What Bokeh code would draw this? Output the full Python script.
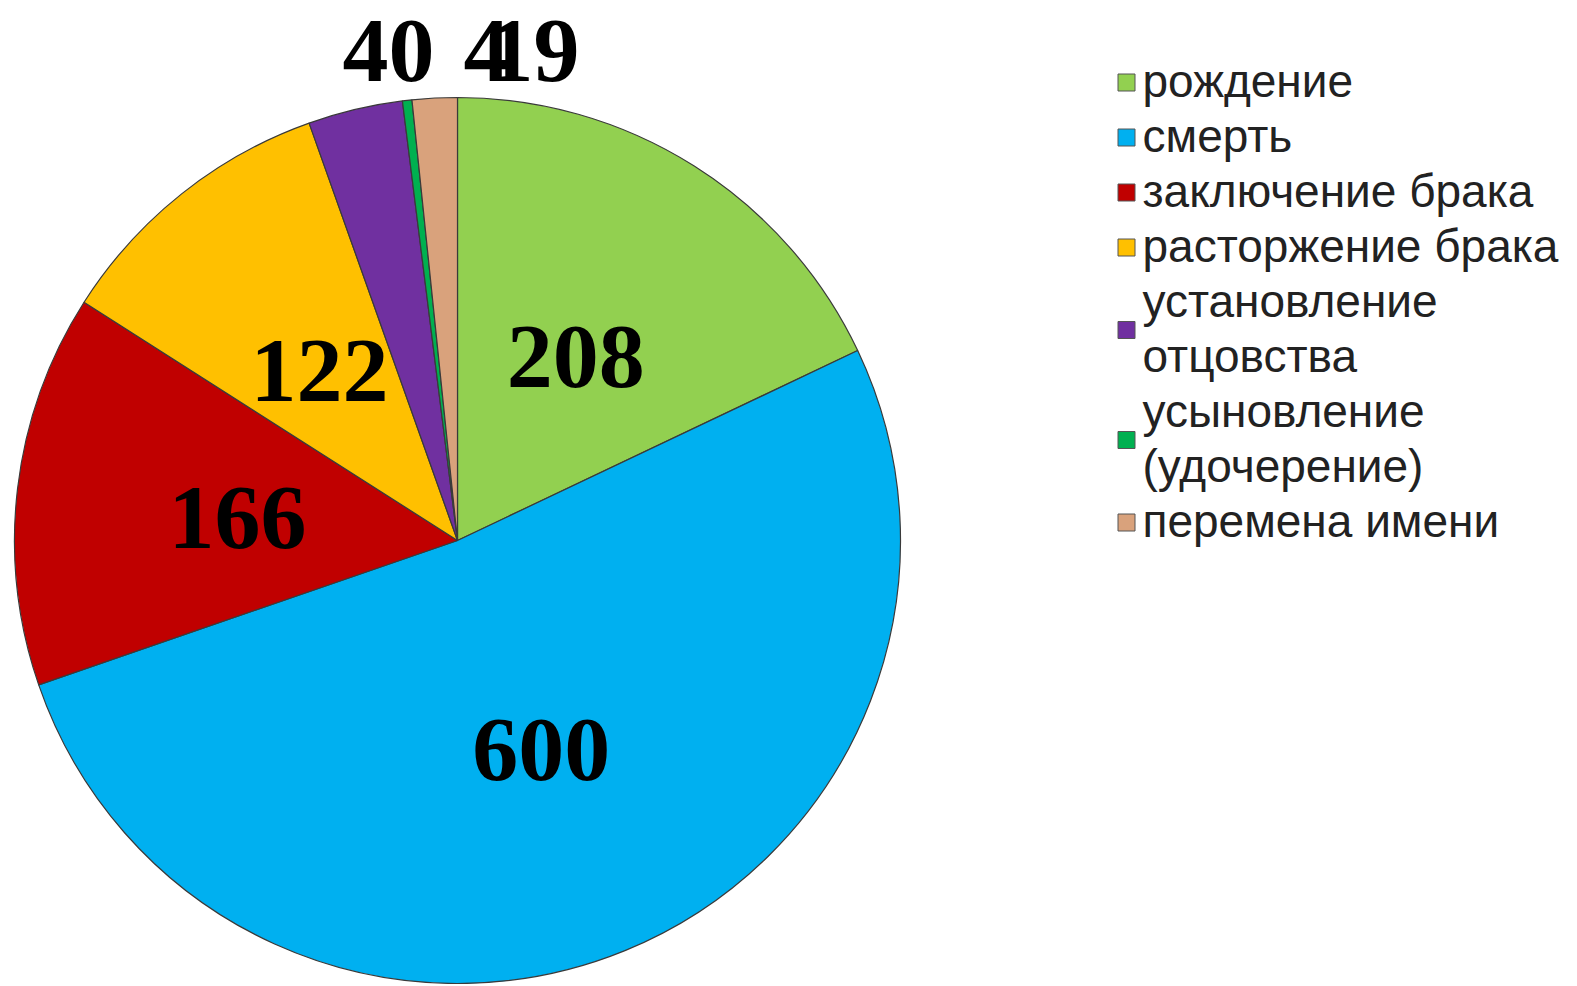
import numpy as np
from bokeh.plotting import figure
from bokeh.models import ColumnDataSource, Range1d
from bokeh.core.properties import value
from bokeh.embed import file_html
from bokeh.resources import INLINE

# ---- data ----
categories = ["рождение", "смерть", "заключение брака", "расторжение брака",
              "установление\nотцовства", "усыновление\n(удочерение)", "перемена имени"]
values = [208, 600, 166, 122, 40, 4, 19]
colors = ["#92D050", "#00B0F0", "#C00000", "#FFC000", "#7030A0", "#00B050", "#D9A27C"]

# ---- layout ----
W, H = 1576, 984
cx, cy, R = 457, 444, 443

p = figure(width=W, height=H, output_backend="svg", toolbar_location=None,
           x_range=Range1d(0, W), y_range=Range1d(0, H), min_border=0)
p.axis.visible = False
p.grid.visible = False
p.outline_line_color = None
p.background_fill_color = "white"

vals = np.array(values, dtype=float)
frac = vals / vals.sum()
cum = np.concatenate([[0], np.cumsum(frac)])
start = np.pi / 2 - 2 * np.pi * cum[:-1]
end = np.pi / 2 - 2 * np.pi * cum[1:]
mid = (start + end) / 2

src = ColumnDataSource(dict(start=start, end=end, color=colors))
p.wedge(x=cx, y=cy, radius=R, start_angle="start", end_angle="end",
        direction="clock", fill_color="color", line_color="#3a3a3a",
        line_width=1.2, source=src)

# data labels
inside = frac > 0.05
lx, ly = [], []
outside_dx = {4: -69, 5: 29, 6: 76}
for i in range(len(values)):
    if inside[i]:
        lx.append(cx + 0.5 * R * np.cos(mid[i]))
        ly.append(cy + 0.5 * R * np.sin(mid[i]) - 4)
    else:
        lx.append(cx + outside_dx[i])
        ly.append(cy + 1.105 * R)
lab = ColumnDataSource(dict(x=lx, y=ly, t=[str(v) for v in values]))
p.text(x="x", y="y", text="t", source=lab, text_align="center",
       text_baseline="middle", text_font=value("Liberation Serif"),
       text_font_style="bold", text_font_size="92px", text_color="black")

# legend
mx, tx = 1126, 1142
row_top, row_h = 904, 55
row = 0
mk_x, mk_y, t_x, t_y, t_s = [], [], [], [], []
for i, c in enumerate(categories):
    lines = c.split("\n")
    ys = [row_top - row_h * (row + k) for k in range(len(lines))]
    mk_x.append(mx)
    mk_y.append(np.mean(ys) - 2)
    for yy, ln in zip(ys, lines):
        t_x.append(tx)
        t_y.append(yy)
        t_s.append(ln)
    row += len(lines)

p.scatter(x=mk_x, y=mk_y, marker="square", size=17, fill_color=colors,
          line_color="#555555", line_width=1)
p.text(x=t_x, y=t_y, text=t_s, text_align="left", text_baseline="middle",
       text_font=value("Liberation Sans"), text_font_size="46px",
       text_color="#222222")

open("out.html", "w").write(file_html(p, INLINE))
